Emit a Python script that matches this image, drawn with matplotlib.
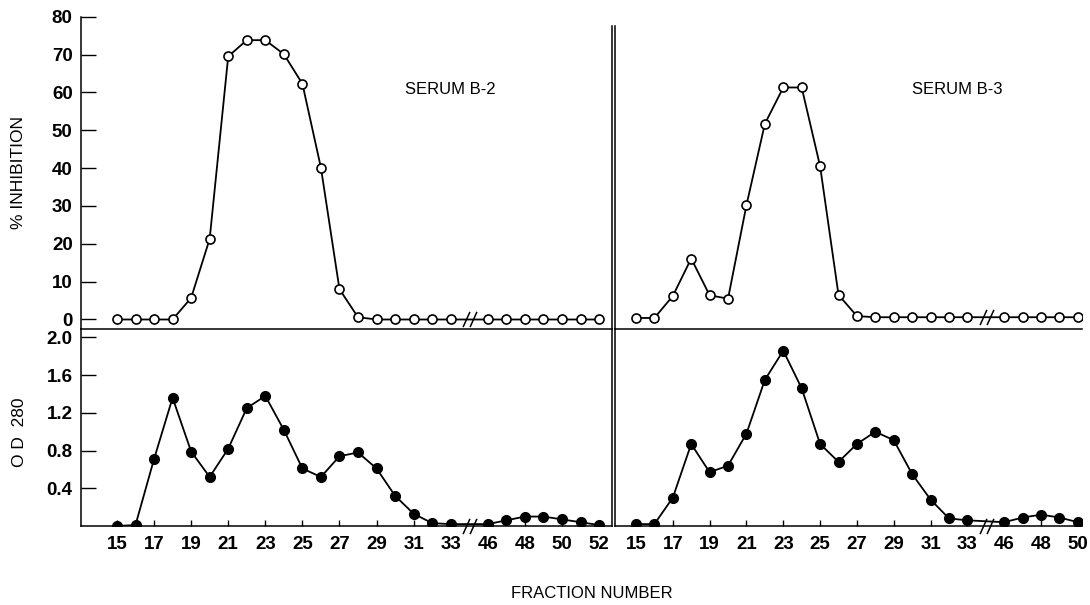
import matplotlib
matplotlib.use('Agg')
import matplotlib.pyplot as plt
import matplotlib.path as mpath

plt.rcParams['font.family'] = ['Liberation Sans', 'DejaVu Sans']

# fractions (axis broken between 33 and 46)
frac_b2 = list(range(15, 34)) + list(range(46, 53))
frac_b3 = list(range(15, 34)) + list(range(46, 51))

# % inhibition
inhib_b2 = [0, 0, 0, 0, 5.7, 21.3, 69.5, 73.8, 73.8, 70.1, 62.3, 40.1, 8.0, 0.6,
            0, 0, 0, 0, 0,
            0, 0, 0, 0, 0, 0, 0]
inhib_b3 = [0.4, 0.4, 6.2, 16.1, 6.4, 5.5, 30.2, 51.7, 61.3, 61.3, 40.5, 6.5, 0.9,
            0.6, 0.6, 0.6, 0.6, 0.6, 0.6,
            0.6, 0.6, 0.6, 0.6, 0.6]

# OD 280
od_b2 = [0.0, 0.01, 0.71, 1.36, 0.79, 0.52, 0.82, 1.25, 1.38, 1.02, 0.61, 0.52,
         0.74, 0.78, 0.61, 0.32, 0.13, 0.03, 0.02,
         0.02, 0.06, 0.10, 0.10, 0.07, 0.04, 0.01]
od_b3 = [0.02, 0.02, 0.30, 0.87, 0.57, 0.64, 0.98, 1.55, 1.86, 1.46, 0.87, 0.68,
         0.87, 1.00, 0.91, 0.55, 0.28, 0.08, 0.06,
         0.04, 0.09, 0.12, 0.09, 0.04]

ticks_b2 = [15, 17, 19, 21, 23, 25, 27, 29, 31, 33, 46, 48, 50, 52]
ticks_b3 = [15, 17, 19, 21, 23, 25, 27, 29, 31, 33, 46, 48, 50]
long_ticks = [17, 19, 21, 23, 25, 27, 29, 31]
inhib_ticks = [0, 10, 20, 30, 40, 50, 60, 70, 80]
od_ticks = [0.4, 0.8, 1.2, 1.6, 2.0]


def pos(fr):
    # collapse the 34..45 gap onto a single slot
    return [f if f <= 33 else f - 11 for f in fr]


tick_font = ['Liberation Sans Narrow', 'Liberation Sans', 'DejaVu Sans']
tick_size = 13.5
lw = 1.3

fig = plt.figure(figsize=(10.9, 6.05), dpi=100)
ax_tl = fig.add_axes([0.0743, 0.4567, 0.4872, 0.5157])
ax_tr = fig.add_axes([0.5642, 0.4567, 0.4284, 0.5157])
ax_bl = fig.add_axes([0.0743, 0.1306, 0.4872, 0.3261])
ax_br = fig.add_axes([0.5642, 0.1306, 0.4284, 0.3261])

for ax in (ax_tl, ax_bl):
    ax.set_xlim(13.06, 41.70)
for ax in (ax_tr, ax_br):
    ax.set_xlim(13.86, 39.22)
for ax in (ax_tl, ax_tr):
    ax.set_ylim(-2.43, 80)
for ax in (ax_bl, ax_br):
    ax.set_ylim(0, 2.093)

for ax in (ax_tl, ax_tr, ax_bl, ax_br):
    for s in ax.spines.values():
        s.set_linewidth(1.1)
    ax.spines['top'].set_visible(False)
    ax.patch.set_visible(False)

# spines: double line between panels
ax_tl.spines['right'].set_bounds(-2.43, 77.5)
ax_tr.spines['left'].set_bounds(-2.43, 77.5)
ax_tr.spines['right'].set_visible(False)
ax_br.spines['right'].set_visible(False)

# curves
ax_tl.plot(pos(frac_b2), inhib_b2, color='black', lw=lw, marker='o', ms=6.5,
           mfc='white', mec='black', mew=1.2)
ax_tr.plot(pos(frac_b3), inhib_b3, color='black', lw=lw, marker='o', ms=6.5,
           mfc='white', mec='black', mew=1.2)
ax_bl.plot(pos(frac_b2), od_b2, color='black', lw=lw, marker='o', ms=7,
           mfc='black', mec='black')
ax_br.plot(pos(frac_b3), od_b3, color='black', lw=lw, marker='o', ms=7,
           mfc='black', mec='black')

# break marks "//"
slash = mpath.Path([(-0.45, -1), (0.45, 1)], [mpath.Path.MOVETO, mpath.Path.LINETO])
for ax, y in ((ax_tl, 0), (ax_tr, 0.6), (ax_bl, 0), (ax_br, 0)):
    ax.plot([33.85, 34.2], [y, y], ls='none', marker=slash, ms=11,
            mec='black', mew=1.1, clip_on=False)

# top panels ticks
ax_tl.set_xticks([])
ax_tr.set_xticks([])
ax_tr.set_yticks([])
ax_tl.set_yticks(inhib_ticks)
ax_tl.set_yticklabels([str(v) for v in inhib_ticks], family=tick_font,
                      fontsize=tick_size, fontweight='bold')
ax_tl.set_yticks([80], minor=True)
ax_tl.tick_params(axis='y', which='major', direction='in', length=11, width=1, pad=6)
ax_tl.tick_params(axis='y', which='minor', direction='in', length=16, width=1)

# bottom panels ticks
ax_bl.set_yticks(od_ticks)
ax_bl.set_yticklabels(['%.1f' % v for v in od_ticks], family=tick_font,
                      fontsize=tick_size, fontweight='bold')
ax_bl.tick_params(axis='y', direction='in', length=11, width=1, pad=6)
ax_br.set_yticks([])

for ax, tk in ((ax_bl, ticks_b2), (ax_br, ticks_b3)):
    ax.set_xticks(pos(tk))
    ax.set_xticklabels([str(t) for t in tk], family=tick_font,
                       fontsize=tick_size, fontweight='bold')
    ax.set_xticks(pos(long_ticks), minor=True)
    ax.tick_params(axis='x', which='major', direction='in', length=4, width=1, pad=7)
    ax.tick_params(axis='x', which='minor', direction='in', length=10, width=1.1)

# texts
fig.text(450 / 1090, 1 - 90 / 605, 'SERUM B-2', ha='center', va='center', fontsize=12)
fig.text(957 / 1090, 1 - 90 / 605, 'SERUM B-3', ha='center', va='center', fontsize=12)
fig.text(19 / 1090, 1 - 172 / 605, '% INHIBITION', rotation=90, ha='center',
         va='center', fontsize=12.5)
fig.text(20 / 1090, 1 - 432 / 605, 'O D  280', rotation=90, ha='center',
         va='center', fontsize=12.5)
fig.text(592 / 1090, 1 - 594 / 605, 'FRACTION NUMBER', ha='center', va='center',
         fontsize=12)

fig.savefig('out.png', dpi=100)
